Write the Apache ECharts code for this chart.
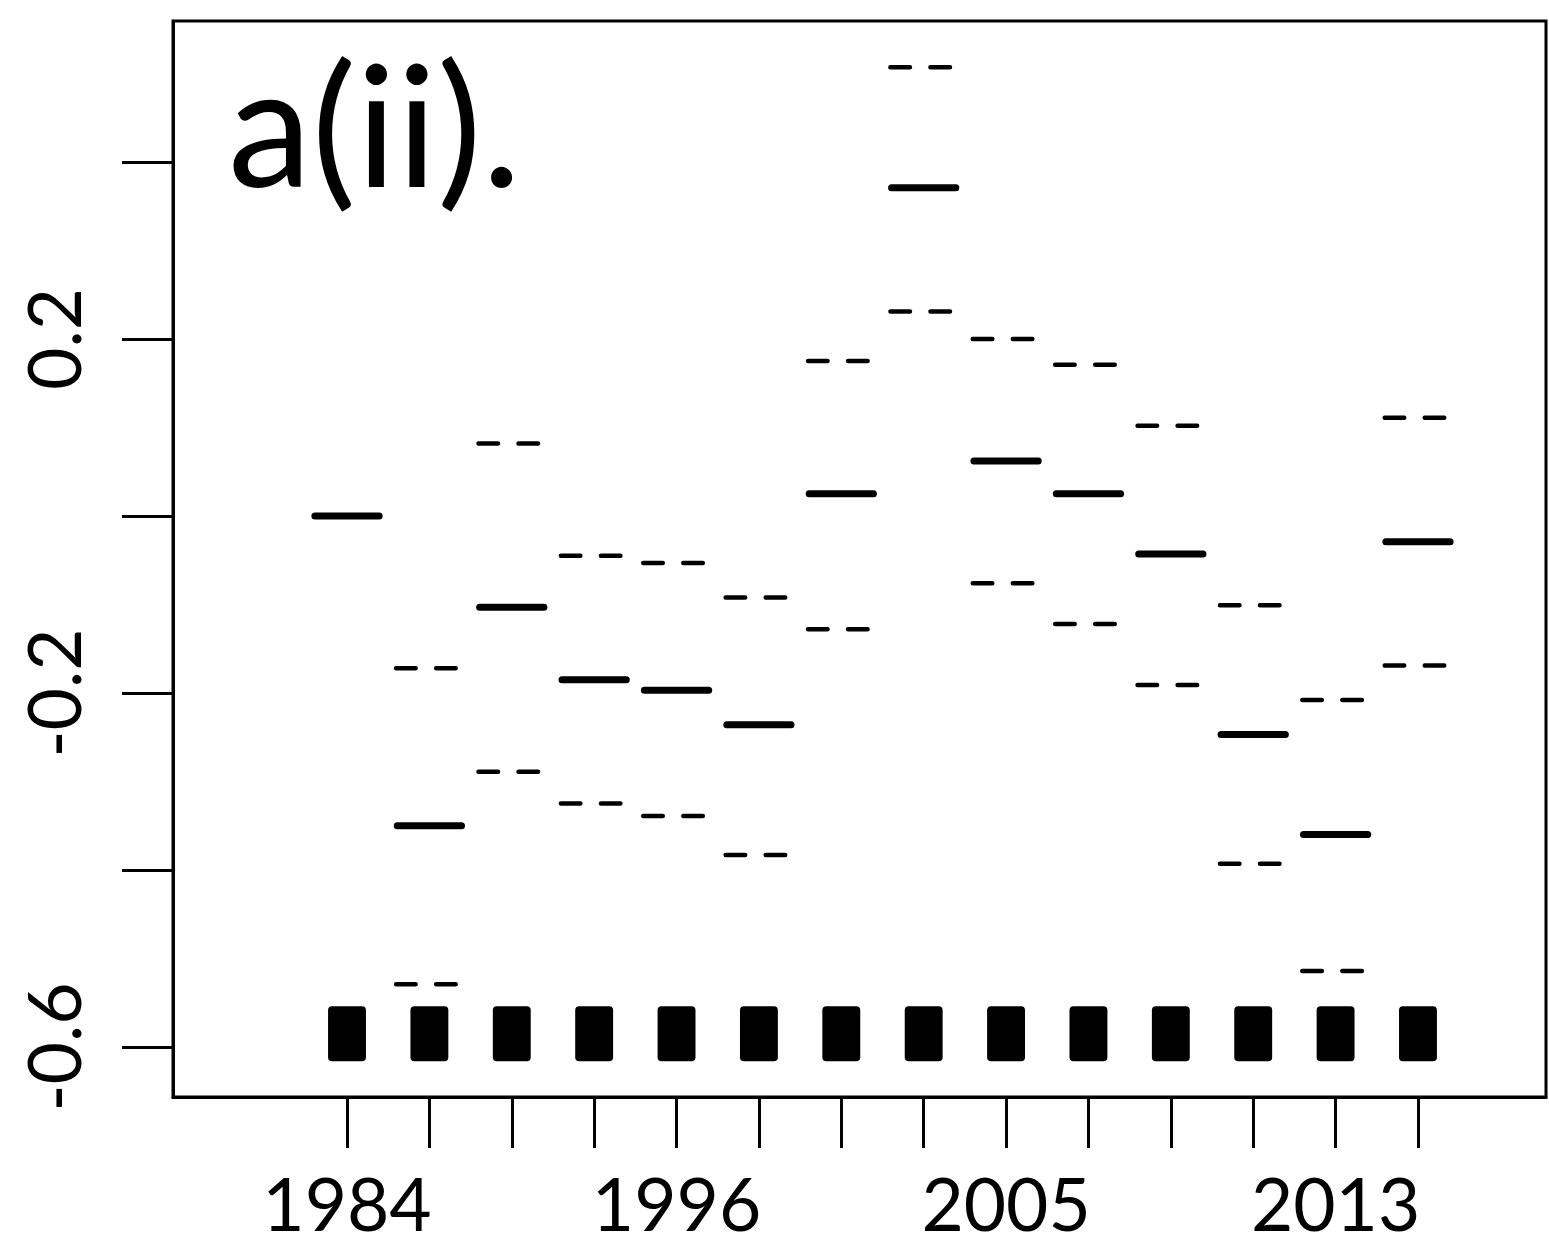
<!DOCTYPE html>
<html>
<head>
<meta charset="utf-8">
<script src="https://cdn.jsdelivr.net/npm/echarts@6/dist/echarts.min.js"></script>
<style>
  html, body { margin: 0; padding: 0; background: #fff; }
  #chart { width: 1549px; height: 1247px; }
</style>
</head>
<body>
<div id="chart"></div>
<script>
// Period index on the x axis (1..14) and the years printed beneath selected ticks
const periods = [1, 2, 3, 4, 5, 6, 7, 8, 9, 10, 11, 12, 13, 14];
const xLabelPeriods = [1, 5, 9, 13];
const xLabelYears = ['1984', '1996', '2005', '2013'];

// Period estimates (solid) with upper / lower interval bounds (dashed); first period is the baseline
const estimate = [0.0, -0.350, -0.103, -0.185, -0.197, -0.236, 0.025, 0.371, 0.062, 0.025, -0.043, -0.247, -0.360, -0.029];
const upper    = [null, -0.172, 0.082, -0.045, -0.053, -0.092, 0.175, 0.507, 0.200, 0.171, 0.102, -0.101, -0.208, 0.111];
const lower    = [null, -0.529, -0.289, -0.325, -0.339, -0.383, -0.128, 0.231, -0.076, -0.122, -0.191, -0.393, -0.514, -0.169];

// Level of the filled block shown for each period along the bottom
const blockLevel = [-0.585, -0.585, -0.585, -0.585, -0.585, -0.585, -0.585, -0.585, -0.585, -0.585, -0.585, -0.585, -0.585, -0.585];

// y axis ticks and the subset that carries labels
const yTicks = [-0.6, -0.4, -0.2, 0.0, 0.2, 0.4];
const yTickLabels = [-0.6, -0.2, 0.2];

const FONT = 'Lato';

function pairs(values) {
  const out = [];
  values.forEach((v, i) => { if (v !== null) out.push([periods[i], v]); });
  return out;
}

function segmentRenderer(kind) {
  return function (params, api) {
    const c = api.coord([api.value(0), api.value(1)]);
    const band = api.size([1, 0])[0];
    if (kind === 'solid') {
      const half = band * 0.39;
      return {
        type: 'line',
        shape: { x1: c[0] - half, y1: c[1], x2: c[0] + half, y2: c[1] },
        style: { stroke: '#000', lineWidth: 7, lineCap: 'round' }
      };
    }
    const half = band * 0.404;
    return {
      type: 'line',
      shape: { x1: c[0] - half, y1: c[1], x2: c[0] + half, y2: c[1] },
      style: {
        stroke: '#000', lineWidth: 4.5, lineCap: 'round',
        lineDash: [band * 0.237, band * 0.249]
      }
    };
  };
}

function blockRenderer(params, api) {
  const c = api.coord([api.value(0), api.value(1)]);
  const band = api.size([1, 0])[0];
  const w = band * 0.46;
  const h = 55;
  return {
    type: 'rect',
    shape: { x: c[0] - w / 2, y: c[1] - h / 2, width: w, height: h, r: 4 },
    style: { fill: '#000' }
  };
}

const chart = echarts.init(document.getElementById('chart'), null, { renderer: 'canvas' });

chart.setOption({
  animation: false,
  backgroundColor: '#fff',
  graphic: [{
    type: 'text',
    left: 228,
    top: 49,
    style: { text: 'a(ii).', font: '168px Lato', fill: '#000' }
  }],
  grid: {
    left: 173, top: 21, width: 1373, height: 1076,
    show: true, borderColor: '#000', borderWidth: 3, backgroundColor: 'transparent'
  },
  xAxis: {
    type: 'value',
    min: -1.1122,
    max: 15.554,
    axisLine: { show: true, onZero: false, lineStyle: { color: '#000', width: 3 } },
    splitLine: { show: false },
    axisTick: {
      show: true, inside: false, length: 51,
      customValues: periods,
      lineStyle: { color: '#000', width: 3 }
    },
    axisLabel: {
      show: true,
      customValues: xLabelPeriods,
      margin: 74,
      formatter: v => xLabelYears[xLabelPeriods.indexOf(Math.round(v))] || '',
      fontFamily: FONT, fontSize: 73, color: '#000', lineHeight: 73
    }
  },
  yAxis: {
    type: 'value',
    min: -0.6565,
    max: 0.5593,
    axisLine: { show: true, onZero: false, lineStyle: { color: '#000', width: 3 } },
    splitLine: { show: false },
    axisTick: {
      show: true, inside: false, length: 51,
      customValues: yTicks,
      lineStyle: { color: '#000', width: 3 }
    },
    axisLabel: {
      show: true,
      customValues: yTickLabels,
      rotate: 90,
      margin: 79,
      formatter: v => String(Math.round(v * 10) / 10),
      fontFamily: FONT, fontSize: 73, color: '#000', lineHeight: 73
    }
  },
  series: [
    { type: 'custom', name: 'blocks', renderItem: blockRenderer, data: pairs(blockLevel), z: 2 },
    { type: 'custom', name: 'upper', renderItem: segmentRenderer('dashed'), data: pairs(upper), z: 3 },
    { type: 'custom', name: 'lower', renderItem: segmentRenderer('dashed'), data: pairs(lower), z: 3 },
    { type: 'custom', name: 'estimate', renderItem: segmentRenderer('solid'), data: pairs(estimate), z: 4 }
  ]
});
</script>
</body>
</html>
